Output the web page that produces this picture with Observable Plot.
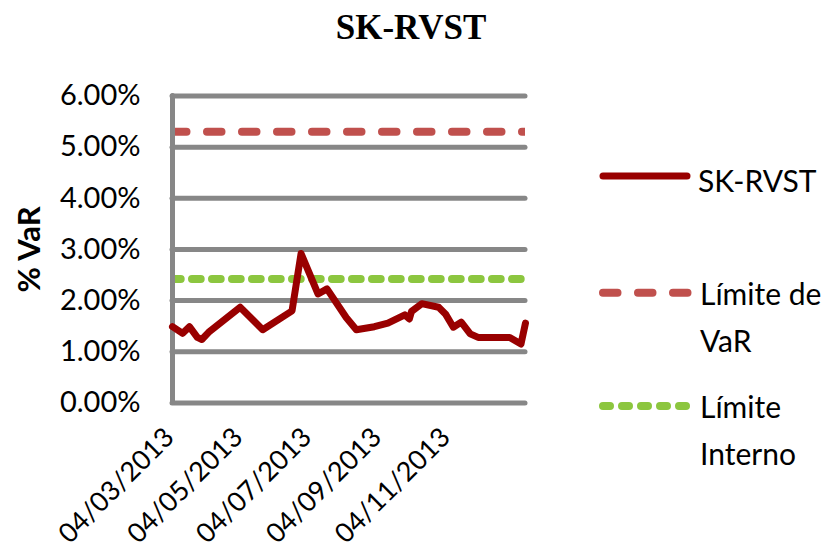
<!DOCTYPE html>
<html>
<head>
<meta charset="utf-8">
<script src="https://cdn.jsdelivr.net/npm/d3@7"></script>
<script src="https://cdn.jsdelivr.net/npm/@observablehq/plot@0.6"></script>
<style>
  body { margin: 0; background: #fff; }
  #wrap { position: relative; width: 824px; height: 552px; overflow: hidden; background: #fff; }
  #title { position: absolute; left: 0; top: 10px; width: 822px; text-align: center;
           font-family: "Liberation Serif", "Times New Roman", serif; font-weight: bold;
           font-size: 35px; line-height: 35px; color: #000; }
  #chart { position: absolute; left: 0; top: 0; }
  #legend { position: absolute; left: 590px; top: 0; }
</style>
</head>
<body>
<div id="wrap">
  <div id="chart"></div>
  <div id="title">SK-RVST</div>
  <svg id="legend" width="234" height="552"></svg>
</div>
<script>
// ---- data ----
const dates = ["2013-03-04","2013-03-13","2013-03-19","2013-03-26","2013-03-30","2013-04-05",
  "2013-05-03","2013-05-23","2013-06-18","2013-06-26","2013-07-03","2013-07-11","2013-07-19",
  "2013-08-05","2013-08-14","2013-08-30","2013-09-11","2013-09-26","2013-09-30","2013-10-02",
  "2013-10-11","2013-10-26","2013-11-01","2013-11-08","2013-11-15","2013-11-23","2013-11-30",
  "2013-12-28","2014-01-07","2014-01-11"];
const varPct = [1.49,1.36,1.49,1.28,1.24,1.38,1.87,1.43,1.80,2.92,2.55,2.13,2.23,1.67,1.43,
  1.49,1.56,1.72,1.64,1.79,1.94,1.87,1.74,1.48,1.58,1.35,1.28,1.28,1.15,1.56];
const limiteVaRPct = 5.3;
const limiteInternoPct = 2.42;
const yTicksPct = [0, 1, 2, 3, 4, 5, 6];
const xTickDates = ["2013-03-04","2013-05-04","2013-07-04","2013-09-04","2013-11-04"];
const xDomain = ["2013-03-04", "2014-01-11"];
const seriesNames = ["SK-RVST", "Límite de VaR", "Límite Interno"];
const yLabel = "% VaR";

// ---- build ----
const series = dates.map((d, i) => ({date: new Date(d), value: varPct[i] / 100}));
const xTicks = xTickDates.map(d => new Date(d));
const fmtDate = d3.utcFormat("%d/%m/%Y");
const fmtPct = d3.format(".2%");

const colLine = "#990000", colVaR = "#C0504D", colInt = "#8CC63F", colGrid = "#878787";

const chart = Plot.plot({
  width: 560,
  height: 552,
  marginLeft: 172,
  marginRight: 35,
  marginTop: 95.5,
  marginBottom: 149.6,
  style: {fontFamily: "Lato, sans-serif", fontSize: "29px", color: "#000", background: "transparent"},
  x: {type: "utc", domain: xDomain.map(d => new Date(d)), axis: null},
  y: {domain: [0, 0.06], axis: null},
  marks: [
    Plot.ruleY(yTicksPct.map(v => v / 100), {stroke: colGrid, strokeWidth: 5, strokeLinecap: "round"}),
    Plot.ruleY([limiteVaRPct / 100], {stroke: colVaR, strokeWidth: 8, strokeDasharray: "14.5,20.5", strokeLinecap: "round", clip: "frame"}),
    Plot.ruleY([limiteInternoPct / 100], {stroke: colInt, strokeWidth: 8, strokeDasharray: "8.7,11.3", strokeLinecap: "round", clip: "frame"}),
    Plot.ruleX([new Date(xDomain[0])], {y1: 0, y2: 0.06, stroke: colGrid, strokeWidth: 5, strokeLinecap: "round"}),
    Plot.line(series, {x: "date", y: "value", stroke: colLine, strokeWidth: 7, strokeLinejoin: "round", strokeLinecap: "round"}),
    Plot.axisY(yTicksPct.map(v => v / 100), {tickFormat: fmtPct, tickSize: 0, tickPadding: 32, fontSize: 29, label: null}),
    Plot.text(xTicks, {x: d => d, frameAnchor: "bottom", text: d => fmtDate(d), rotate: -45,
      textAnchor: "end", lineAnchor: "middle", dx: -3, dy: 30, fontSize: 27}),
    Plot.text([yLabel], {frameAnchor: "left", text: d => d, rotate: -90, dx: -142,
      textAnchor: "middle", lineAnchor: "middle", fontSize: 31, fontWeight: "bold"})
  ]
});
document.getElementById("chart").appendChild(chart);

// ---- legend ----
const lg = d3.select("#legend");
const lfont = "Lato, sans-serif";
function legendText(lines, x, y0, dy) {
  lines.forEach((t, i) => lg.append("text").attr("x", x).attr("y", y0 + i * dy)
    .attr("font-family", lfont).attr("font-size", 30).attr("fill", "#000").text(t));
}
lg.append("line").attr("x1", 13).attr("x2", 97).attr("y1", 176).attr("y2", 176)
  .attr("stroke", colLine).attr("stroke-width", 7).attr("stroke-linecap", "round");
legendText([seriesNames[0]], 108, 191.7, 0);
lg.append("line").attr("x1", 13).attr("x2", 97.5).attr("y1", 292.7).attr("y2", 292.7)
  .attr("stroke", colVaR).attr("stroke-width", 8).attr("stroke-dasharray", "14.5,20.5").attr("stroke-linecap", "round");
legendText(["Límite de", "VaR"], 110, 305, 46.7);
lg.append("line").attr("x1", 13).attr("x2", 96).attr("y1", 406).attr("y2", 406)
  .attr("stroke", colInt).attr("stroke-width", 8).attr("stroke-dasharray", "7,12").attr("stroke-linecap", "round");
legendText(["Límite", "Interno"], 110, 418, 47);
</script>
</body>
</html>
